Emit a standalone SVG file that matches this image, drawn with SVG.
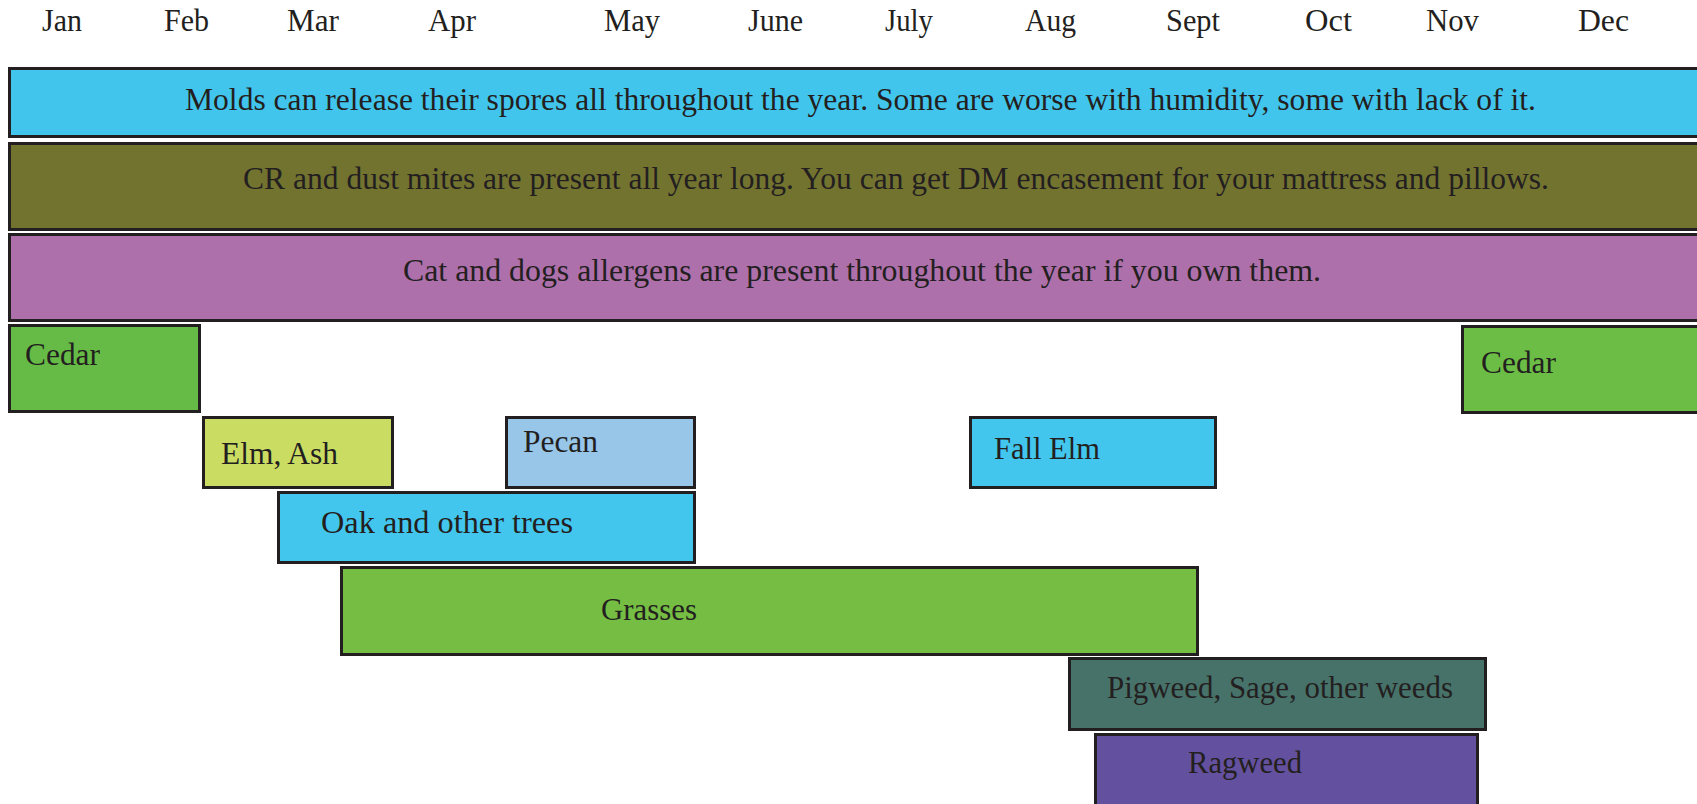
<svg xmlns="http://www.w3.org/2000/svg" width="1697" height="804" viewBox="0 0 1697 804">
<style>
text{font-family:"Liberation Serif","Times New Roman",serif;fill:#231f20;font-size:31.5px}
rect{stroke:#231f20;stroke-width:3}
</style>
<rect x="0" y="0" width="1697" height="804" fill="#ffffff" style="stroke:none"/>
<g id="months">
<text x="42" y="31" textLength="40" lengthAdjust="spacingAndGlyphs">Jan</text>
<text x="164" y="31" textLength="45" lengthAdjust="spacingAndGlyphs">Feb</text>
<text x="287" y="31" textLength="52" lengthAdjust="spacingAndGlyphs">Mar</text>
<text x="428" y="31" textLength="48" lengthAdjust="spacingAndGlyphs">Apr</text>
<text x="604" y="31" textLength="56" lengthAdjust="spacingAndGlyphs">May</text>
<text x="748" y="31" textLength="55" lengthAdjust="spacingAndGlyphs">June</text>
<text x="885" y="31" textLength="48" lengthAdjust="spacingAndGlyphs">July</text>
<text x="1025" y="31" textLength="51" lengthAdjust="spacingAndGlyphs">Aug</text>
<text x="1166" y="31" textLength="54" lengthAdjust="spacingAndGlyphs">Sept</text>
<text x="1305" y="31" textLength="47" lengthAdjust="spacingAndGlyphs">Oct</text>
<text x="1426" y="31" textLength="53" lengthAdjust="spacingAndGlyphs">Nov</text>
<text x="1578" y="31" textLength="51" lengthAdjust="spacingAndGlyphs">Dec</text>
</g>
<g id="molds">
<rect x="9.5" y="68.5" width="1700" height="68" fill="#42c5ed"/>
<text x="185" y="110" textLength="1351" lengthAdjust="spacingAndGlyphs">Molds can release their spores all throughout the year. Some are worse with humidity, some with lack of it.</text>
</g>
<g id="dustmites">
<rect x="9.5" y="143.5" width="1700" height="86" fill="#737330"/>
<text x="243" y="189" textLength="1306" lengthAdjust="spacingAndGlyphs">CR and dust mites are present all year long. You can get DM encasement for your mattress and pillows.</text>
</g>
<g id="pets">
<rect x="9.5" y="234.5" width="1700" height="86" fill="#ae70ab"/>
<text x="403" y="281" textLength="918" lengthAdjust="spacingAndGlyphs">Cat and dogs allergens are present throughout the year if you own them.</text>
</g>
<g id="cedar-early">
<rect x="9.5" y="325.5" width="190" height="86" fill="#66bb46"/>
<text x="25" y="365" textLength="75" lengthAdjust="spacingAndGlyphs">Cedar</text>
</g>
<g id="cedar-late">
<rect x="1462.5" y="326.5" width="250" height="86" fill="#6cbd45"/>
<text x="1481" y="373" textLength="75" lengthAdjust="spacingAndGlyphs">Cedar</text>
</g>
<g id="elm-ash">
<rect x="203.5" y="417.5" width="189" height="70" fill="#cbdc63"/>
<text x="221" y="464" textLength="117" lengthAdjust="spacingAndGlyphs">Elm, Ash</text>
</g>
<g id="pecan">
<rect x="506.5" y="417.5" width="188" height="70" fill="#97c6e9"/>
<text x="523" y="452" textLength="75" lengthAdjust="spacingAndGlyphs">Pecan</text>
</g>
<g id="fall-elm">
<rect x="970.5" y="417.5" width="245" height="70" fill="#42c6ee"/>
<text x="994" y="459" textLength="106" lengthAdjust="spacingAndGlyphs">Fall Elm</text>
</g>
<g id="oak">
<rect x="278.5" y="492.5" width="416" height="70" fill="#42c6ee"/>
<text x="321" y="533" textLength="252" lengthAdjust="spacingAndGlyphs">Oak and other trees</text>
</g>
<g id="grasses">
<rect x="341.5" y="567.5" width="856" height="87" fill="#75bd43"/>
<text x="601" y="620" textLength="96" lengthAdjust="spacingAndGlyphs">Grasses</text>
</g>
<g id="pigweed">
<rect x="1069.5" y="658.5" width="416" height="71" fill="#47726a"/>
<text x="1107" y="698" textLength="346" lengthAdjust="spacingAndGlyphs">Pigweed, Sage, other weeds</text>
</g>
<g id="ragweed">
<rect x="1095.5" y="734.5" width="382" height="80" fill="#63519f"/>
<text x="1188" y="773" textLength="114" lengthAdjust="spacingAndGlyphs">Ragweed</text>
</g>
<g id="connectors"></g>
</svg>
